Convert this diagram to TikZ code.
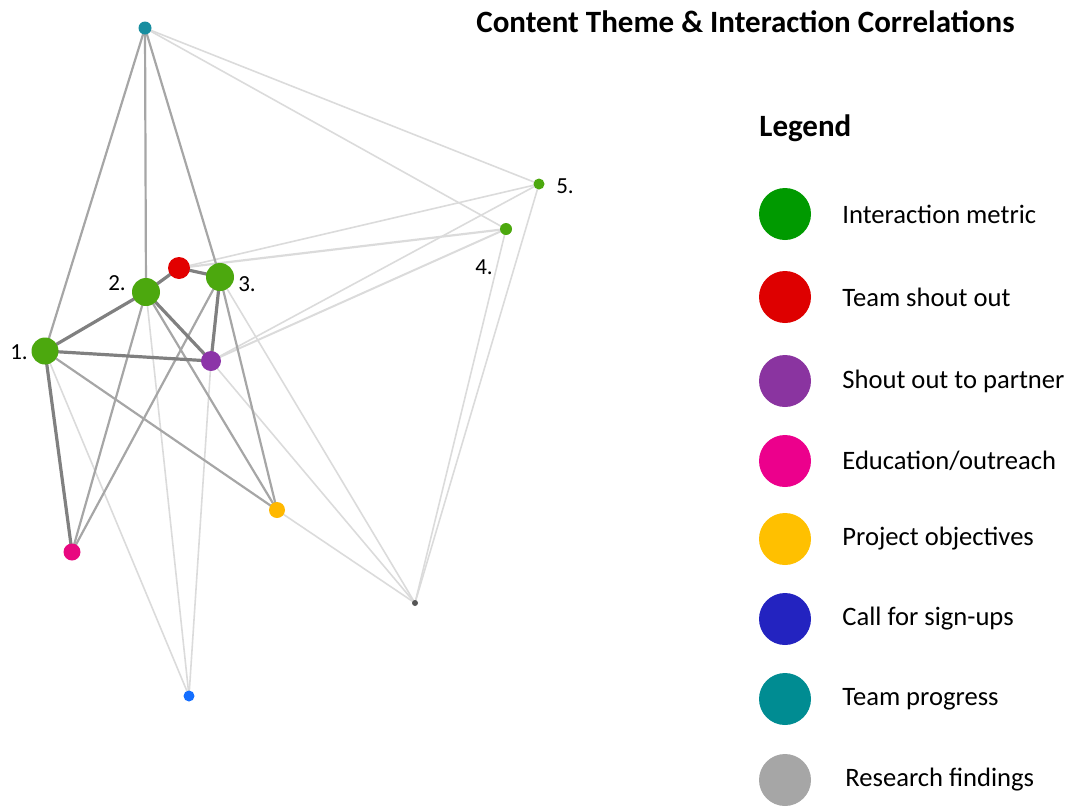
\documentclass[tikz,border=0pt]{standalone}
\usepackage{fontspec}
\setmainfont{Carlito}
\usetikzlibrary{backgrounds}
\definecolor{gnode}{RGB}{76,168,14}
\definecolor{rnode}{RGB}{226,0,0}
\definecolor{pnode}{RGB}{140,52,168}
\definecolor{knode}{RGB}{232,8,128}
\definecolor{ynode}{RGB}{255,184,0}
\definecolor{bnode}{RGB}{20,110,255}
\definecolor{tnode}{RGB}{24,142,160}
\definecolor{dnode}{RGB}{85,85,85}
\definecolor{lgreen}{RGB}{0,154,0}
\definecolor{lred}{RGB}{222,0,0}
\definecolor{lpurple}{RGB}{138,52,160}
\definecolor{lpink}{RGB}{236,0,140}
\definecolor{lyellow}{RGB}{255,192,0}
\definecolor{lblue}{RGB}{35,35,192}
\definecolor{lteal}{RGB}{0,140,146}
\definecolor{lgray}{RGB}{166,166,166}
\tikzset{
  vertex/.style={circle,inner sep=0pt,draw=none},
  strong/.style={draw=black!50,line width=1.6pt},
  medium/.style={draw=black!35,line width=1.1pt},
  faint/.style={draw=black!14,line width=0.8pt},
  numlabel/.style={font=\fontsize{11.5}{13}\selectfont,inner sep=0pt},
  keydot/.style={circle,inner sep=0pt,minimum size=26pt,draw=none},
  keytext/.style={anchor=west,inner sep=0pt,font=\fontsize{13.3}{16}\selectfont},
  heading/.style={anchor=west,inner sep=0pt,font=\bfseries\fontsize{15.5}{18}\selectfont},
}
\begin{document}
\begin{tikzpicture}[x=0.5pt,y=-0.5pt]
\useasboundingbox (0,0) rectangle (1072,809);

% graph vertices
\node[vertex,fill=tnode,minimum size=6.5pt] (T) at (145,28) {};
\node[vertex,fill=gnode,minimum size=5.5pt] (N5) at (539,184) {};
\node[vertex,fill=gnode,minimum size=6pt] (N4) at (506,229) {};
\node[vertex,fill=rnode,minimum size=11pt] (R) at (179,268) {};
\node[vertex,fill=gnode,minimum size=14pt] (N3) at (220,277) {};
\node[vertex,fill=gnode,minimum size=14pt] (N2) at (146,292) {};
\node[vertex,fill=gnode,minimum size=13.5pt] (N1) at (45,351) {};
\node[vertex,fill=pnode,minimum size=10pt] (P) at (211,361) {};
\node[vertex,fill=ynode,minimum size=8pt] (Y) at (277,510) {};
\node[vertex,fill=knode,minimum size=8.5pt] (K) at (72,552) {};
\node[vertex,fill=dnode,minimum size=3pt] (G) at (415,603) {};
\node[vertex,fill=bnode,minimum size=5.5pt] (B) at (189,696) {};

% vertex numbers
\node[numlabel] (l1) at (19,352) {1.};
\node[numlabel] (l2) at (117,283) {2.};
\node[numlabel] (l3) at (247,284) {3.};
\node[numlabel] (l4) at (484,267) {4.};
\node[numlabel] (l5) at (565,186) {5.};

% correlation links
\begin{scope}[on background layer]
  % weak links
  \draw[faint] (T.center) -- (N5.center);
  \draw[faint] (T.center) -- (N4.center);
  \draw[faint] (N5.center) -- (R.center);
  \draw[faint,line width=1.1pt] (N4.center) -- (R.center);
  \draw[faint] (N5.center) -- (P.center);
  \draw[faint,line width=1pt] (N4.center) -- (P.center);
  \draw[faint] (N5.center) -- (G.center);
  \draw[faint] (N4.center) -- (G.center);
  \draw[faint] (N3.center) -- (G.center);
  \draw[faint] (P.center) -- (G.center);
  \draw[faint] (Y.center) -- (G.center);
  \draw[faint] (N1.center) -- (B.center);
  \draw[faint] (N2.center) -- (B.center);
  \draw[faint] (P.center) -- (B.center);
  % moderate links
  \draw[medium] (T.center) -- (N1.center);
  \draw[medium] (T.center) -- (N2.center);
  \draw[medium] (T.center) -- (N3.center);
  \draw[medium] (N2.center) -- (K.center);
  \draw[medium] (N3.center) -- (K.center);
  \draw[medium] (N1.center) -- (Y.center);
  \draw[medium] (N2.center) -- (Y.center);
  \draw[medium] (N3.center) -- (Y.center);
  % strong links
  \draw[strong] (R.center) -- (N2.center);
  \draw[strong] (R.center) -- (N3.center);
  \draw[strong] (N2.center) -- (P.center);
  \draw[strong] (N3.center) -- (P.center);
  \draw[strong] (N1.center) -- (P.center);
  \draw[strong] (N1.center) -- (N2.center);
  \draw[strong] (N1.center) -- (K.center);
\end{scope}

% title
\node[heading] (title) at (476,22) {Content Theme \& Interaction Correlations};

% legend
\node[heading] (legend) at (759,128) {Legend};
\node[keydot,fill=lgreen]  (k1) at (785,214) {};
\node[keydot,fill=lred]    (k2) at (785,297) {};
\node[keydot,fill=lpurple] (k3) at (785,381) {};
\node[keydot,fill=lpink]   (k4) at (785,461) {};
\node[keydot,fill=lyellow] (k5) at (785,539) {};
\node[keydot,fill=lblue]   (k6) at (785,619) {};
\node[keydot,fill=lteal]   (k7) at (785,699) {};
\node[keydot,fill=lgray]   (k8) at (785,780) {};
\node[keytext] (t1) at (842,214) {Interaction metric};
\node[keytext] (t2) at (842,297) {Team shout out};
\node[keytext] (t3) at (842,381) {Shout out to partner};
\node[keytext] (t4) at (842,461) {Education/outreach};
\node[keytext] (t5) at (842,539) {Project objectives};
\node[keytext] (t6) at (842,619) {Call for sign-ups};
\node[keytext] (t7) at (842,699) {Team progress};
\node[keytext] (t8) at (845,780) {Research findings};
\end{tikzpicture}
\end{document}
